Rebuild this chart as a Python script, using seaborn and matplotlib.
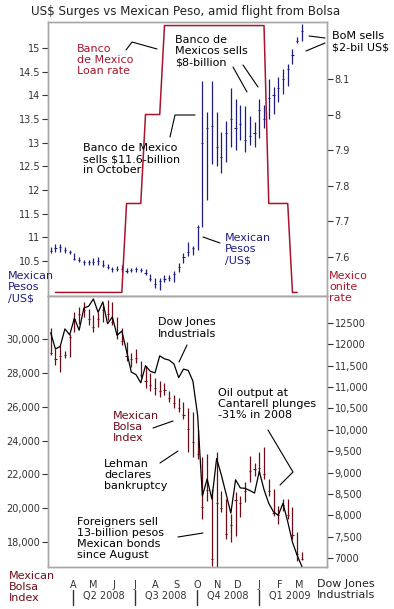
import numpy as np
import pandas as pd
import matplotlib
matplotlib.use("Agg")
import matplotlib.pyplot as plt
import matplotlib.dates as mdates
import matplotlib.transforms as mtrans
from matplotlib.lines import Line2D
import seaborn as sns

# ---- data: weekly bars, end of Feb 2008 to early Mar 2009 ----
weeks = pd.date_range("2008-02-28", periods=54, freq="7D")

peso_high = [10.80, 10.85, 10.86, 10.80, 10.73, 10.66, 10.58, 10.53, 10.53, 10.56,
             10.58, 10.52, 10.44, 10.38, 10.40, 10.42, 10.35, 10.36, 10.38, 10.36,
             10.33, 10.22, 10.14, 10.14, 10.20, 10.20, 10.29, 10.45, 10.67, 10.90,
             10.82, 11.27, 14.31, 13.65, 14.31, 13.65, 13.22, 13.45, 14.15, 13.93,
             13.80, 13.77, 13.56, 13.43, 13.93, 13.80, 14.35, 14.18, 14.39, 14.56,
             14.67, 14.98, 15.23, 15.50]
peso_low = [10.66, 10.69, 10.69, 10.67, 10.65, 10.52, 10.48, 10.42, 10.42, 10.42,
            10.42, 10.38, 10.33, 10.27, 10.28, 10.27, 10.25, 10.26, 10.27, 10.27,
            10.20, 10.08, 9.93, 9.89, 10.06, 10.08, 10.06, 10.27, 10.45, 10.60,
            10.63, 10.73, 11.22, 11.78, 12.55, 12.50, 12.35, 12.60, 12.90, 12.85,
            13.05, 12.80, 12.95, 12.90, 13.10, 13.30, 13.50, 13.60, 13.86, 14.03,
            14.20, 14.67, 15.10, 15.14]
peso_close = [10.72, 10.78, 10.80, 10.74, 10.69, 10.55, 10.52, 10.47, 10.48, 10.47,
              10.50, 10.42, 10.37, 10.32, 10.33, 10.33, 10.29, 10.31, 10.33, 10.30,
              10.24, 10.12, 10.02, 10.08, 10.12, 10.15, 10.22, 10.38, 10.58, 10.70,
              10.78, 11.22, 13.00, 13.30, 13.35, 12.90, 12.70, 13.20, 13.50, 13.30,
              13.40, 13.05, 13.15, 13.20, 13.70, 13.50, 13.95, 14.00, 14.15, 14.35,
              14.55, 14.85, 15.15, 15.35]

loan_rate = [np.nan, 7.50, 7.50, 7.50, 7.50, 7.50, 7.50, 7.50, 7.50, 7.50,
             7.50, 7.50, 7.50, 7.50, 7.50, 7.50, 7.75, 7.75, 7.75, 7.75,
             8.00, 8.00, 8.00, 8.00, 8.25, 8.25, 8.25, 8.25, 8.25, 8.25,
             8.25, 8.25, 8.25, 8.25, 8.25, 8.25, 8.25, 8.25, 8.25, 8.25,
             8.25, 8.25, 8.25, 8.25, 8.25, 8.25, 7.75, 7.75, 7.75, 7.75,
             7.75, 7.50, 7.50, np.nan]

bolsa_high = [30650, 29400, 29650, 29300, 30300, 31600, 31900, 32200, 31800, 31400,
              31600, 32000, 32300, 32200, 31300, 30650, 29800, 29200, 29400, 28700,
              28400, 28000, 27700, 27500, 27400, 26900, 26700, 26500, 26300, 25950,
              25700, 24650, 23000, 23180, 21120, 23350, 21000, 20530, 19650, 20940,
              20700, 21530, 23060, 22700, 23350, 23590, 21710, 21120, 20120, 20530,
              20530, 20100, 18600, 17400]
bolsa_low = [29060, 28470, 28060, 28900, 28950, 30400, 30900, 31300, 30800, 30400,
             30700, 31000, 31100, 30800, 30000, 29650, 28700, 28350, 28600, 27700,
             27100, 26900, 26700, 26550, 26700, 26300, 25950, 25700, 25250, 23300,
             23000, 22900, 19360, 20420, 16590, 16530, 19770, 18180, 18000, 18360,
             19470, 20360, 21530, 21880, 22000, 21710, 20710, 19530, 19060, 19830,
             19360, 18200, 16900, 16950]
bolsa_close = [29200, 28800, 29000, 29050, 30100, 31200, 31500, 31700, 31200, 30700,
               31200, 31700, 31500, 31000, 30300, 29900, 29000, 28800, 28900, 27900,
               27500, 27300, 27100, 26900, 27000, 26500, 26200, 25900, 25500, 24700,
               23900, 23200, 20060, 21100, 17000, 20300, 20000, 18500, 19000, 20500,
               20300, 21000, 22200, 22300, 22400, 22000, 21000, 19700, 19600, 20200,
               19600, 18400, 17300, 17000]

dow_close = [12270, 11890, 11950, 12360, 12220, 12610, 12330, 12850, 12890, 13060,
             12750, 12990, 12480, 12640, 12210, 12310, 11840, 11350, 11290, 11100,
             11500, 11370, 11330, 11730, 11660, 11630, 11540, 11220, 11420, 11390,
             11140, 10330, 8450, 8850, 8380, 9330, 8940, 8500, 8050, 8830,
             8640, 8630, 8580, 8520, 9030, 8600, 8280, 8080, 8000, 8280,
             7850, 7370, 7060, 6800]

month_starts = pd.date_range("2008-04-01", periods=12, freq="MS")
month_labels = ["A", "M", "J", "J", "A", "S", "O", "N", "D", "J", "F", "M"]
quarter_starts = pd.to_datetime(["2008-04-01", "2008-07-01", "2008-10-01", "2009-01-01", "2009-04-01"])
quarter_labels = ["Q2 2008", "Q3 2008", "Q4 2008", "Q1 2009"]

peso_ticks = [10.5, 11, 11.5, 12, 12.5, 13, 13.5, 14, 14.5, 15]
peso_ticklabels = ["10.5", "11", "11.5", "12", "12.5", "13", "13.5", "14", "14.5", "15"]
rate_ticks = [7.6, 7.7, 7.8, 7.9, 8.0, 8.1]
rate_ticklabels = ["7.6", "7.7", "7.8", "7.9", "8", "8.1"]
bolsa_ticks = [18000, 20000, 22000, 24000, 26000, 28000, 30000]
bolsa_ticklabels = ["18,000", "20,000", "22,000", "24,000", "26,000", "28,000", "30,000"]
dow_ticks = [7000, 7500, 8000, 8500, 9000, 9500, 10000, 10500, 11000, 11500, 12000, 12500]
dow_ticklabels = ["7000", "7,500", "8,000", "8,500", "9,000", "9,500", "10,000",
                  "10,500", "11,000", "11,500", "12000", "12500"]

# ---- colours ----
navy = "#1e1e80"
rate_red = "#a8152c"
bolsa_red = "#6e0b16"
frame = "#a8a8a8"
tickc = "#333333"

sns.set_style("white")
plt.rcParams["font.family"] = ["DejaVu Sans"]

W, H = 394, 609
fig = plt.figure(figsize=(W / 100, H / 100), dpi=100)
ax1 = fig.add_axes([48 / W, 1 - 296 / H, 279 / W, 274 / H])
ax2 = fig.add_axes([48 / W, 1 - 567 / H, 279 / W, 271 / H])
ax1r = ax1.twinx()
ax2r = ax2.twinx()

xn = mdates.date2num(weeks)
xlim = mdates.date2num(pd.to_datetime(["2008-02-24", "2009-04-11"]))
half = 1.6  # days, half width of the close tick

# top: peso bars + loan rate
ax1.vlines(xn, peso_low, peso_high, color=navy, lw=0.9)
ax1.hlines(peso_close, xn - half, xn + half, color=navy, lw=0.8)
sns.lineplot(x=xn, y=loan_rate, ax=ax1r, color=rate_red, lw=1.1)

# bottom: bolsa bars + dow line
ax2.vlines(xn, bolsa_low, bolsa_high, color=bolsa_red, lw=0.9)
ax2.hlines(bolsa_close, xn - half, xn + half, color=bolsa_red, lw=0.8)
sns.lineplot(x=xn, y=dow_close, ax=ax2r, color="black", lw=0.9)

for a in (ax1, ax1r, ax2, ax2r):
    a.set_xlim(*xlim)
    a.set_xlabel("")
    a.set_ylabel("")
    for s in a.spines.values():
        s.set_color(frame)
        s.set_linewidth(1)
    a.tick_params(axis="y", direction="out", length=4, width=0.8, color=tickc,
                  labelcolor=tickc, labelsize=7, pad=1.5)

ax1.set_ylim(9.76, 15.55)
ax1r.set_ylim(7.49, 8.26)
ax2.set_ylim(16525, 32540)
ax2r.set_ylim(6790, 13130)

ax1.set_yticks(peso_ticks, peso_ticklabels)
ax1r.set_yticks(rate_ticks, rate_ticklabels)
ax2.set_yticks(bolsa_ticks, bolsa_ticklabels)
ax2r.set_yticks(dow_ticks, dow_ticklabels)

ax1.set_xticks([])
ax1r.set_xticks([])
ax2r.set_xticks([])
ax2.set_xticks(mdates.date2num(month_starts), month_labels)
ax2.tick_params(axis="x", length=0, labelsize=7, labelcolor=tickc, pad=9)

# quarter separators and labels under the months
tr = mtrans.blended_transform_factory(ax2.transData, ax2.transAxes)
for q in mdates.date2num(quarter_starts[:4]):
    ax2.plot([q, q], [-0.085, -0.142], transform=tr, clip_on=False, color=tickc, lw=1)
for i, lab in enumerate(quarter_labels):
    a0, a1 = mdates.date2num(quarter_starts[i:i + 2])
    ax2.text((a0 + a1) / 2, -0.107, lab, transform=tr, ha="center", va="center",
             fontsize=7, color=tickc)


def label(x, y, s, color="black", size=8):
    fig.text(x / W, 1 - y / H, s, ha="left", va="center", fontsize=size,
             color=color, linespacing=1.15)


def leader(*pts):
    xs = [p[0] / W for p in pts]
    ys = [1 - p[1] / H for p in pts]
    fig.add_artist(Line2D(xs, ys, transform=fig.transFigure, color="black", lw=0.8))


fig.text(186 / W, 1 - 11 / H, "US$ Surges vs Mexican Peso, amid flight from Bolsa",
         ha="center", va="center", fontsize=8.6, color="#222222")

label(77, 60, "Banco\nde Mexico\nLoan rate", rate_red)
leader((126, 50), (132, 42), (157, 49))
label(175, 51, "Banco de\nMexicos sells\n$8-billion")
leader((233, 67), (247, 92))
leader((243, 65), (258, 87))
label(332, 41.5, "BoM sells\n\\$2-bil US\\$")
leader((309, 36), (325, 38))
leader((306, 51), (325, 43))
label(83, 159, "Banco de Mexico\nsells $11.6-billion\nin October")
leader((170, 137), (175, 115), (195, 115))
label(225, 249, "Mexican\nPesos\n/US$", navy)
leader((203, 237), (220, 243))
label(8, 287, "Mexican\nPesos\n/US$", navy)
label(329, 287, "Mexico\nonite\nrate", rate_red)

label(158, 328, "Dow Jones\nIndustrials")
leader((187, 345), (179, 362))
label(218, 404, "Oil output at\nCantarell plunges\n-31% in 2008")
leader((268, 430), (293, 472), (280, 485))
label(113, 427, "Mexican\nBolsa\nIndex", bolsa_red)
leader((153, 428), (173, 421))
label(104, 475, "Lehman\ndeclares\nbankruptcy")
leader((160, 463), (178, 451))
label(77, 538.5, "Foreigners sell\n13-billion pesos\nMexican bonds\nsince August")
leader((178, 537), (203, 533))
label(9, 587, "Mexican\nBolsa\nIndex", bolsa_red)
label(317, 589.5, "Dow Jones\nIndustrials", "#222222")

fig.savefig("out.png", dpi=100)
